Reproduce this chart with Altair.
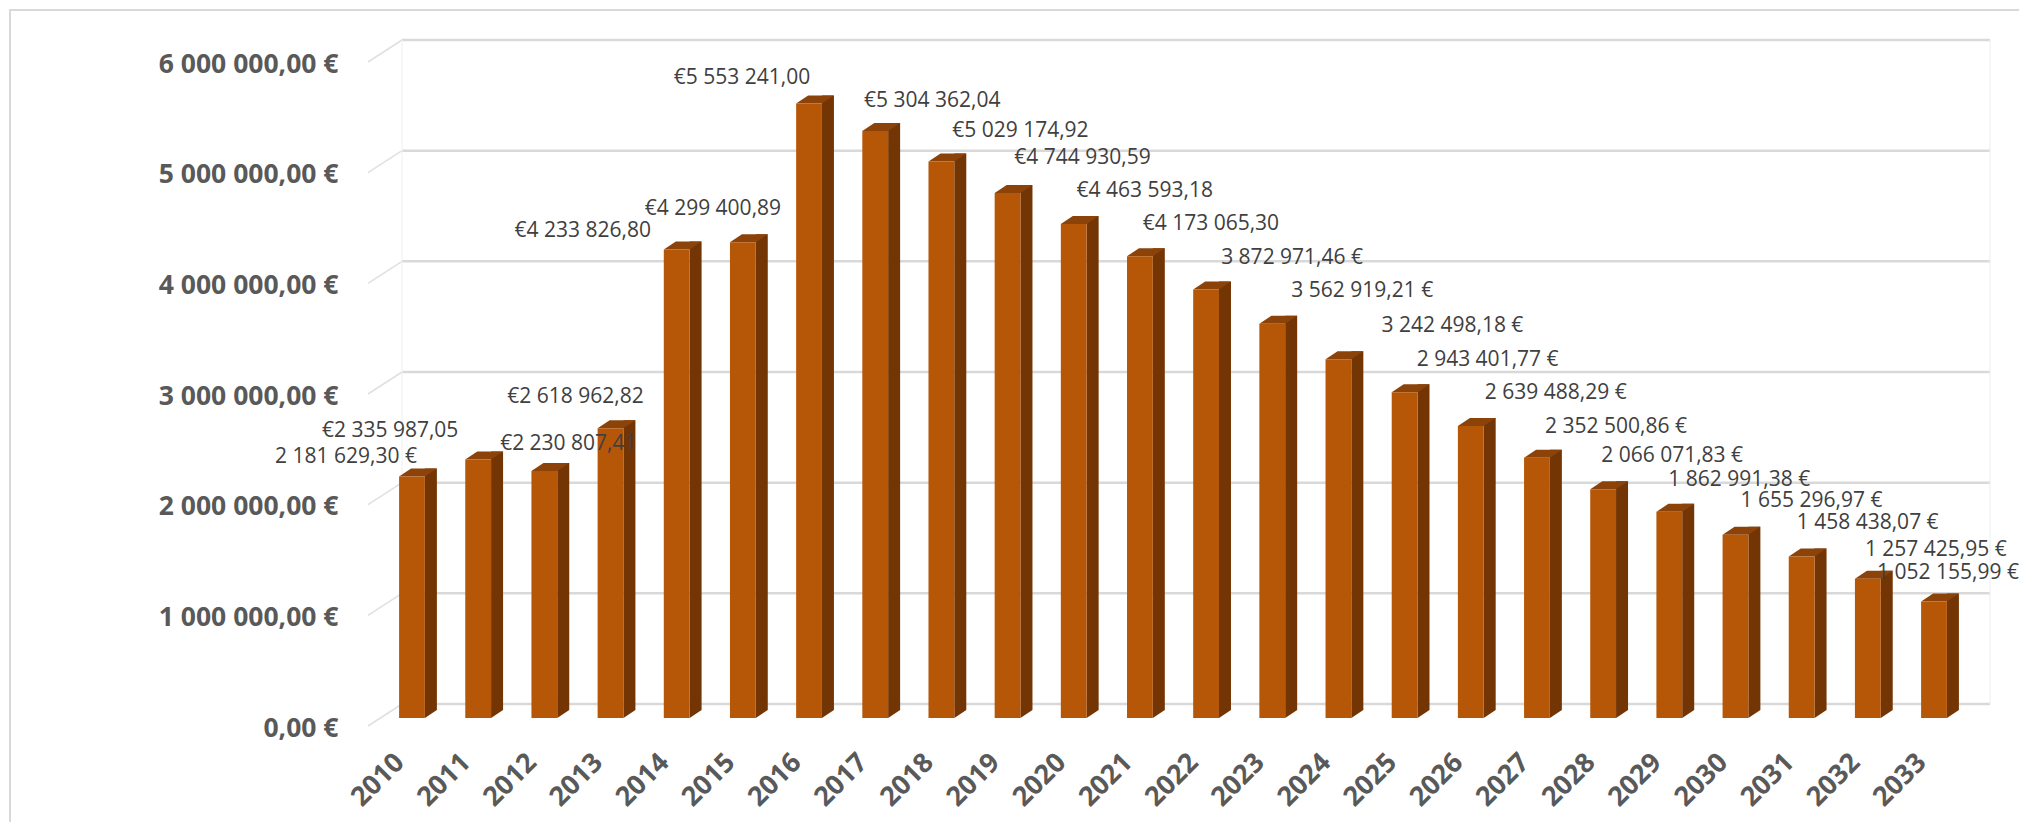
import altair as alt
import pandas as pd

# ---------------- data ----------------
years = [str(y) for y in range(2010, 2034)]
values = [2181629.30, 2335987.05, 2230807.41, 2618962.82, 4233826.80, 4299400.89,
          5553241.00, 5304362.04, 5029174.92, 4744930.59, 4463593.18, 4173065.30,
          3872971.46, 3562919.21, 3242498.18, 2943401.77, 2639488.29, 2352500.86,
          2066071.83, 1862991.38, 1655296.97, 1458438.07, 1257425.95, 1052155.99]
value_labels = ["2 181 629,30 €", "€2 335 987,05", "€2 230 807,41", "€2 618 962,82",
                "€4 233 826,80", "€4 299 400,89", "€5 553 241,00", "€5 304 362,04",
                "€5 029 174,92", "€4 744 930,59", "€4 463 593,18", "€4 173 065,30",
                "3 872 971,46 €", "3 562 919,21 €", "3 242 498,18 €", "2 943 401,77 €",
                "2 639 488,29 €", "2 352 500,86 €", "2 066 071,83 €", "1 862 991,38 €",
                "1 655 296,97 €", "1 458 438,07 €", "1 257 425,95 €", "1 052 155,99 €"]
# manual nudges of the data labels (as placed in the original chart)
label_dx = [-66, -88, 24, -35, -94, -30, -67, 57, 79, 75, 71, 71,
            86, 90, 114, 83, 85, 79, 69, 70, 76, 66, 68, 14]
label_dy = [-20, -28, -27, -31, -18, -33, -25, -30, -30, -35, -33, -32,
            -31, -33, -33, -32, -33, -31, -33, -32, -34, -34, -29, -29]
y_ticks = [0, 1000000, 2000000, 3000000, 4000000, 5000000, 6000000]
y_tick_labels = ["0,00 €", "1 000 000,00 €", "2 000 000,00 €", "3 000 000,00 €",
                 "4 000 000,00 €", "5 000 000,00 €", "6 000 000,00 €"]

# ---------------- layout / style ----------------
W, H = 1614, 664
PAD_L, PAD_T = 366, 54
P_IN, P_OUT = 0.61, 0.5
STEP = W / (len(years) - P_IN + 2 * P_OUT)
BW = STEP * (1 - P_IN)
DEPTH_X, DEPTH_Y = 12, 8
BACK_Y = 14
YMAX = 6000000

FRONT = "#B65708"
SIDE = "#743505"
TOP = "#8C4309"
GRID = "#D9D9D9"
AXIS_TXT = "#595959"
LBL_TXT = "#404040"
FONT = "Open Sans"

df = pd.DataFrame({"year": years, "value": values, "label": value_labels,
                   "dx": label_dx, "dy": label_dy})
grid_df = pd.DataFrame({"v": y_ticks})
one = pd.DataFrame({"k": [0]})

y_label_expr = "[" + ",".join("'" + s + "'" for s in y_tick_labels) + "][round(datum.value / 1000000)]"

x_axis = alt.Axis(title=None, labelAngle=-45, labelAlign="right", labelBaseline="middle",
                  labelFont=FONT, labelFontSize=27, labelFontWeight="bold",
                  labelColor=AXIS_TXT, labelPadding=40, labelOffset=-12,
                  ticks=False, tickSize=0, domain=False, grid=False)
y_axis = alt.Axis(title=None, values=y_ticks, labelExpr=y_label_expr,
                  labelFont=FONT, labelFontSize=26.5, labelFontWeight="bold",
                  labelColor=AXIS_TXT, labelPadding=28, labelOffset=10,
                  ticks=False, tickSize=0, domain=False, grid=False)

x_scale = alt.Scale(paddingInner=P_IN, paddingOuter=P_OUT)
y_scale = alt.Scale(domain=[0, YMAX], nice=False, zero=True)

x_enc = alt.X("year:N", sort=years, scale=x_scale, axis=x_axis)
y_val = alt.Y("value:Q", scale=y_scale, axis=y_axis)
y_grid = alt.Y("v:Q", scale=y_scale, axis=y_axis)

# chart border
border = alt.Chart(one).mark_rect(fill="transparent", stroke="#D9D9D9", strokeWidth=2).encode(
    x=alt.value(10 - PAD_L), x2=alt.value(W + 80),
    y=alt.value(10 - PAD_T), y2=alt.value(H + 200))

# back-wall gridlines
grid = alt.Chart(grid_df).mark_rule(color=GRID, strokeWidth=2.5, yOffset=-BACK_Y).encode(
    y=y_grid, x=alt.value(36), x2=alt.value(1624))

# perspective ticks from the axis to the back wall
diag = alt.Chart(grid_df).mark_rule(color="#E0E0E0", strokeWidth=1.5,
                                    yOffset=8, y2Offset=-BACK_Y).encode(
    y=y_grid, y2=alt.Y2("v:Q"), x=alt.value(2), x2=alt.value(36))

wall_l = alt.Chart(one).mark_rule(color="#F0F0F0", strokeWidth=1).encode(
    x=alt.value(36), y=alt.value(-BACK_Y), y2=alt.value(H - BACK_Y))
wall_r = alt.Chart(one).mark_rule(color="#EDEDED", strokeWidth=1).encode(
    x=alt.value(1624), y=alt.value(-BACK_Y), y2=alt.value(H - BACK_Y))

# side face of the 3D columns
side = alt.Chart(df).mark_bar(color=SIDE, width=DEPTH_X, xOffset=BW / 2 + DEPTH_X / 2,
                              yOffset=-DEPTH_Y, y2Offset=-DEPTH_Y).encode(
    x=x_enc, y=y_val, y2=alt.datum(0))

# top face (parallelogram)
S_top = BW + DEPTH_X
u = S_top / 2
a = (DEPTH_Y / 2) / u
b = (BW / 2 + DEPTH_X / 2 - DEPTH_X) / u
top_path = f"M-1,{a:.4f}L{b:.4f},{a:.4f}L1,{-a:.4f}L{-b:.4f},{-a:.4f}Z"
top = alt.Chart(df).mark_point(shape=top_path, size=S_top ** 2, filled=True, color=TOP,
                               opacity=1, strokeWidth=0,
                               xOffset=DEPTH_X / 2, yOffset=-DEPTH_Y / 2).encode(
    x=x_enc, y=y_val)

# bottom triangle of the side face
tri_a = DEPTH_Y / 2 / (DEPTH_X / 2)
tri_path = f"M-1,{-tri_a:.4f}L-1,{tri_a:.4f}L1,{-tri_a:.4f}Z"
foot = alt.Chart(df).mark_point(shape=tri_path, size=DEPTH_X ** 2, filled=True, color=SIDE,
                                opacity=1, strokeWidth=0,
                                xOffset=BW / 2 + DEPTH_X / 2, yOffset=-DEPTH_Y / 2).encode(
    x=x_enc, y=alt.Y(datum=0, scale=y_scale, axis=y_axis))

# front face
front = alt.Chart(df).mark_bar(color=FRONT).encode(x=x_enc, y=y_val, y2=alt.datum(0))

# data labels (nudged from the top of each column)
labels = alt.Chart(df).transform_calculate(
    ly=f"datum.value - datum.dy * {YMAX / H}",
    lx=f"datum.dx + {BW / 2}",
).mark_text(font=FONT, fontSize=21, color=LBL_TXT,
            align="center", baseline="middle").encode(
    x=x_enc,
    y=alt.Y("ly:Q", scale=y_scale, axis=y_axis),
    xOffset=alt.XOffset("lx:Q", scale=None),
    text="label:N")

chart = alt.layer(border, grid, diag, wall_l, wall_r, side, top, foot, front, labels).properties(
    width=W, height=H,
    autosize=alt.AutoSizeParams(type="none"),
    padding={"left": PAD_L, "top": PAD_T, "right": 2019 - PAD_L - W, "bottom": 822 - PAD_T - H},
    background="white",
).configure_view(stroke=None)

chart.save("out.html", embed_options={"renderer": "svg", "actions": False})
